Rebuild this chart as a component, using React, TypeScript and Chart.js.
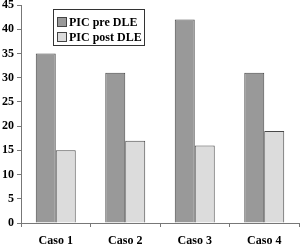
import React, { useEffect, useRef } from "react";
import { Chart, registerables } from "chart.js";

Chart.register(...registerables);

const categories = ["Caso 1", "Caso 2", "Caso 3", "Caso 4"];
const preValues = [35, 31, 42, 31];
const postValues = [15, 17, 16, 19];
const seriesLabels = ["PIC pre DLE", "PIC post DLE"];
const yTicks = [0, 5, 10, 15, 20, 25, 30, 35, 40, 45];

const FONT = "'Liberation Serif', 'Times New Roman', serif";

const boxLegend = {
  id: "boxLegend",
  afterDraw(chart: any) {
    const ctx = chart.ctx;
    const x0 = 53, y0 = 9, w = 91, h = 36;
    ctx.save();
    ctx.fillStyle = "#ffffff";
    ctx.fillRect(x0, y0, w, h);
    ctx.strokeStyle = "#333333";
    ctx.lineWidth = 1;
    ctx.strokeRect(x0 + 0.5, y0 + 0.5, w, h);
    ctx.font = "bold 12px " + FONT;
    ctx.textBaseline = "middle";
    chart.data.datasets.forEach((ds: any, i: number) => {
      const cy = y0 + 13 + i * 15;
      ctx.fillStyle = ds.backgroundColor;
      ctx.fillRect(57, cy - 5, 10, 10);
      ctx.strokeStyle = "#444444";
      ctx.strokeRect(57.5, cy - 4.5, 9, 9);
      ctx.fillStyle = "#000000";
      ctx.fillText(ds.label, 69, cy + 0.5);
    });
    ctx.restore();
  },
};

export default function App() {
  const ref = useRef<HTMLCanvasElement>(null);
  useEffect(() => {
    const chart = new Chart(ref.current!, {
      type: "bar",
      data: {
        labels: categories,
        datasets: [
          {
            label: seriesLabels[0],
            data: preValues,
            backgroundColor: "#999999",
            borderColor: "#4a4a4a",
            borderWidth: 1,
          },
          {
            label: seriesLabels[1],
            data: postValues,
            backgroundColor: "#dcdcdc",
            borderColor: "#4a4a4a",
            borderWidth: 1,
          },
        ],
      },
      options: {
        animation: false,
        responsive: true,
        maintainAspectRatio: false,
        layout: { padding: { top: 5, right: 1, left: 0, bottom: 0 } },
        datasets: { bar: { categoryPercentage: 0.575, barPercentage: 1 } },
        plugins: { legend: { display: false }, tooltip: { enabled: false } },
        scales: {
          x: {
            grid: { drawOnChartArea: false, tickLength: 4, color: "#777777", offset: true },
            border: { color: "#777777" },
            ticks: { color: "#000", font: { family: FONT, size: 12, weight: "bold" }, padding: 7 },
            afterFit: (s: any) => { s.height = 22; s.paddingLeft = 0; s.paddingRight = 0; },
          },
          y: {
            min: 0,
            max: 45,
            afterBuildTicks: (s: any) => { s.ticks = yTicks.map((v) => ({ value: v })); },
            grid: { drawOnChartArea: false, tickLength: 4, color: "#777777" },
            border: { color: "#777777" },
            ticks: { color: "#000", font: { family: FONT, size: 12, weight: "bold" }, padding: 3 },
            afterFit: (s: any) => { s.width = 21; s.paddingTop = 0; s.paddingBottom = 0; },
          },
        },
      },
      plugins: [boxLegend],
    });
    return () => chart.destroy();
  }, []);
  return (
    <div style={{ position: "fixed", left: 0, top: 0, width: 300, height: 245, background: "#fff" }}>
      <canvas ref={ref} />
    </div>
  );
}
